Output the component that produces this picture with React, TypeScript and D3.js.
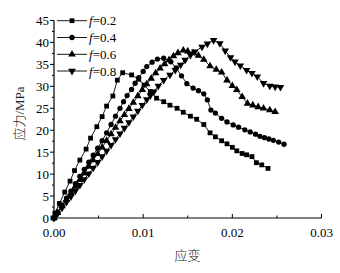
import React from "react";
import * as d3 from "d3";

const xTicks = [0, 0.01, 0.02, 0.03];
const xTickLabels = ["0.00", "0.01", "0.02", "0.03"];
const xMinorTicks = [0.005, 0.015, 0.025];
const yTicks = [0, 5, 10, 15, 20, 25, 30, 35, 40, 45];
const yMinorTicks = [2.5, 7.5, 12.5, 17.5, 22.5, 27.5, 32.5, 37.5, 42.5];
const seriesNames = ["0.2", "0.4", "0.6", "0.8"];

const f02: [number, number][] = [
  [0, 0], [0.0001, 1.1], [0.0006, 3.3], [0.0012, 5.9], [0.0018, 8.4], [0.0023, 10.8],
  [0.0029, 13.2], [0.0036, 15.7], [0.0041, 18.2], [0.0048, 20.8], [0.0054, 23.1],
  [0.0059, 25.5], [0.0066, 27.8], [0.0071, 31.4], [0.0077, 33.1], [0.0087, 32.6],
  [0.0095, 31.6], [0.0101, 30.3], [0.0108, 28.8], [0.0115, 27.3], [0.0123, 26.5],
  [0.013, 25.7], [0.0138, 25.0], [0.0145, 24.1], [0.0153, 23.2], [0.016, 22.5],
  [0.0168, 21.3], [0.0175, 19.4], [0.0181, 18.5], [0.0188, 17.6], [0.0194, 16.9],
  [0.02, 16.1], [0.0205, 15.3], [0.0211, 14.7], [0.0216, 14.4], [0.0222, 14.0],
  [0.0227, 12.6], [0.0233, 12.1], [0.024, 11.3],
];

const f04: [number, number][] = [
  [0, 0], [0.0004, 1.3], [0.0009, 2.9], [0.0014, 4.5], [0.0019, 6.1], [0.0024, 7.8],
  [0.0029, 9.5], [0.0034, 11.1], [0.0039, 12.7], [0.0044, 14.3], [0.0049, 15.9],
  [0.0054, 17.6], [0.0059, 19.4], [0.0064, 21.3], [0.0069, 23.2], [0.0074, 25.0],
  [0.0078, 26.5], [0.0082, 27.9], [0.0087, 29.3], [0.0091, 30.7], [0.0095, 32.0],
  [0.01, 33.4], [0.0104, 34.5], [0.011, 35.5], [0.0116, 36.2], [0.0123, 36.4],
  [0.0131, 35.6], [0.0137, 34.2], [0.0143, 32.4], [0.0149, 30.6], [0.0156, 29.6],
  [0.0162, 29.0], [0.0168, 28.3], [0.0172, 26.9], [0.0176, 24.6], [0.0181, 23.9],
  [0.0188, 22.7], [0.0194, 21.9], [0.0201, 21.2], [0.0207, 20.7], [0.0214, 20.1],
  [0.022, 19.6], [0.0226, 19.1], [0.0231, 18.6], [0.0236, 18.3], [0.0241, 18.0],
  [0.0246, 17.7], [0.0252, 17.3], [0.0258, 16.8],
];

const f06: [number, number][] = [
  [0, 0], [0.0004, 1.2], [0.0009, 2.7], [0.0014, 4.2], [0.0019, 5.7], [0.0024, 7.2],
  [0.0029, 8.7], [0.0034, 10.2], [0.0039, 11.7], [0.0044, 13.2], [0.0049, 14.6],
  [0.0054, 16.1], [0.0059, 17.6], [0.0064, 19.1], [0.0069, 20.6], [0.0074, 22.1],
  [0.0079, 23.5], [0.0084, 24.9], [0.0089, 26.3], [0.0094, 27.8], [0.0099, 29.2],
  [0.0104, 30.5], [0.0109, 31.8], [0.0114, 33.0], [0.0119, 34.1], [0.0124, 35.1],
  [0.0129, 36.0], [0.0134, 36.9], [0.0139, 37.6], [0.0145, 38.2], [0.015, 38.0],
  [0.0156, 37.6], [0.0162, 37.0], [0.0168, 36.1], [0.0175, 34.6], [0.0182, 33.8],
  [0.0188, 33.2], [0.0194, 31.4], [0.02, 30.1], [0.0205, 29.2], [0.0211, 27.6],
  [0.0217, 26.1], [0.0223, 25.7], [0.0229, 25.3], [0.0235, 25.0], [0.0242, 24.6],
  [0.0248, 24.2],
];

const f08: [number, number][] = [
  [0, 0], [0.0004, 1.0], [0.0009, 2.3], [0.0014, 3.6], [0.0019, 4.9], [0.0024, 6.2],
  [0.0029, 7.5], [0.0034, 8.8], [0.0039, 10.1], [0.0044, 11.4], [0.0049, 12.7],
  [0.0054, 14.0], [0.0059, 15.3], [0.0064, 16.6], [0.0069, 17.9], [0.0074, 19.2],
  [0.0079, 20.5], [0.0084, 21.8], [0.0089, 23.1], [0.0094, 24.4], [0.0099, 25.7],
  [0.0104, 27.0], [0.0108, 27.9], [0.0112, 28.8], [0.0117, 30.1], [0.0123, 31.4],
  [0.013, 32.6], [0.0136, 33.7], [0.0142, 34.9], [0.0147, 36.0], [0.0153, 37.1],
  [0.0158, 37.9], [0.0166, 39.0], [0.0172, 39.7], [0.0179, 40.5], [0.0186, 39.8],
  [0.0192, 38.1], [0.0198, 36.6], [0.0203, 35.6], [0.0209, 34.7], [0.0216, 33.7],
  [0.0222, 33.0], [0.0228, 32.2], [0.0235, 30.7], [0.0242, 30.1], [0.0248, 29.9],
  [0.0254, 29.8],
];

const allSeries = [f02, f04, f06, f08];

const W = 340;
const H = 273;
const x = d3.scaleLinear().domain([0, 0.03]).range([54, 321.5]);
const y = d3.scaleLinear().domain([0, 45]).range([218, 20.5]);

const symbols = [
  { type: d3.symbolSquare, size: 23, rot: 0 },
  { type: d3.symbolCircle, size: 22, rot: 0 },
  { type: d3.symbolTriangle, size: 25, rot: 0 },
  { type: d3.symbolTriangle, size: 25, rot: 180 },
];

const serif = "'Liberation Serif', 'Times New Roman', serif";
const cjk = "'Noto Sans CJK SC', sans-serif";

export default function App() {
  const line = d3
    .line<[number, number]>()
    .x((d) => x(d[0]))
    .y((d) => y(d[1]));
  const legendY = [20.7, 37.5, 54.3, 71];
  return (
    <svg
      width={W}
      height={H}
      style={{ position: "absolute", left: 0, top: 0, background: "#fff" }}
    >
      <rect width={W} height={H} fill="#fff" />
      {/* axes */}
      <line x1={x(0)} x2={x(0)} y1={y(0)} y2={y(45)} stroke="#000" strokeWidth={1.2} />
      <line x1={x(0)} x2={x(0.03)} y1={y(0)} y2={y(0)} stroke="#000" strokeWidth={1.2} />
      {yTicks.map((t) => (
        <g key={"yt" + t}>
          <line x1={x(0) - 4} x2={x(0)} y1={y(t)} y2={y(t)} stroke="#000" strokeWidth={1} />
          <text
            x={x(0) - 5}
            y={y(t) + 4.5}
            textAnchor="end"
            fontFamily={serif}
            fontSize={13}
            fill="#000"
          >
            {t}
          </text>
        </g>
      ))}
      {yMinorTicks.map((t) => (
        <line key={"ym" + t} x1={x(0) - 2} x2={x(0)} y1={y(t)} y2={y(t)} stroke="#000" strokeWidth={1} />
      ))}
      {xTicks.map((t, i) => (
        <g key={"xt" + t}>
          <line x1={x(t)} x2={x(t)} y1={y(0)} y2={y(0) - 4} stroke="#000" strokeWidth={1} />
          <text
            x={x(t)}
            y={237}
            textAnchor="middle"
            fontFamily={serif}
            fontSize={13}
            fill="#000"
          >
            {xTickLabels[i]}
          </text>
        </g>
      ))}
      {xMinorTicks.map((t) => (
        <line key={"xm" + t} x1={x(t)} x2={x(t)} y1={y(0)} y2={y(0) - 2.5} stroke="#000" strokeWidth={1} />
      ))}
      {/* axis titles */}
      <text
        x={187.5}
        y={259.5}
        textAnchor="middle"
        fontFamily={cjk}
        fontSize={13}
        fontWeight={300}
        fill="#222"
      >
        应变
      </text>
      <text
        transform="translate(24,113.5) rotate(-90)"
        textAnchor="middle"
        fontSize={13}
        fill="#222"
      >
        <tspan fontFamily={cjk} fontWeight={300}>应力</tspan>
        <tspan fontFamily={serif}>/MPa</tspan>
      </text>
      {/* series */}
      {allSeries.map((s, i) => (
        <g key={"s" + i}>
          <path d={line(s) || ""} fill="none" stroke="#000" strokeWidth={0.9} />
          {s.map((d, j) => (
            <path
              key={j}
              d={d3.symbol().type(symbols[i].type).size(symbols[i].size)() || ""}
              transform={`translate(${x(d[0])},${y(d[1])}) rotate(${symbols[i].rot})`}
              fill="#000"
            />
          ))}
        </g>
      ))}
      {/* legend */}
      {seriesNames.map((n, i) => (
        <g key={"lg" + i}>
          <line x1={57} x2={87} y1={legendY[i]} y2={legendY[i]} stroke="#000" strokeWidth={0.9} />
          <path
            d={d3.symbol().type(symbols[i].type).size(symbols[i].size)() || ""}
            transform={`translate(72,${legendY[i]}) rotate(${symbols[i].rot})`}
            fill="#000"
          />
          <text x={89} y={legendY[i] + 4.5} fontFamily={serif} fontSize={13} fill="#000">
            <tspan fontStyle="italic">f</tspan>
            <tspan>={n}</tspan>
          </text>
        </g>
      ))}
    </svg>
  );
}
